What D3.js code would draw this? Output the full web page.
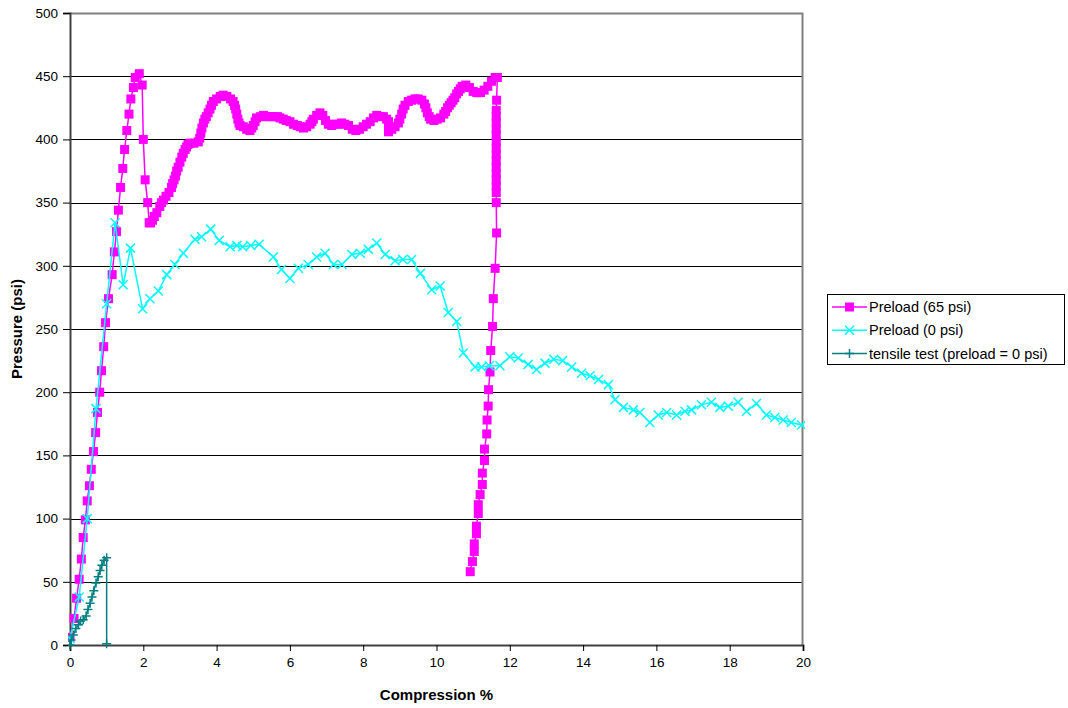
<!DOCTYPE html>
<html>
<head>
<meta charset="utf-8">
<script src="https://cdn.jsdelivr.net/npm/d3@7"></script>
<style>
  body { margin: 0; background: #fff; }
  text { font-family: "Liberation Sans", Arial, sans-serif; }
</style>
</head>
<body>
<div id="chart"></div>
<script>
// Data  ([compression %, pressure psi])

// Preload (65 psi) - loading, plateau, then unloading
var preload65 = [
  [0, 6], [0.11, 21], [0.18, 37], [0.25, 52], [0.31, 68], [0.36, 85], [0.42, 99], [0.47, 114], [0.53, 126], [0.58, 139],
  [0.64, 153], [0.70, 168], [0.75, 184], [0.81, 200], [0.86, 217], [0.92, 236], [0.97, 255], [1.05, 274], [1.15, 293],
  [1.21, 311], [1.27, 327], [1.32, 344], [1.38, 362], [1.44, 377], [1.49, 392], [1.55, 407], [1.61, 420], [1.66, 432],
  [1.73, 441], [1.78, 449], [1.89, 452], [1.97, 443], [2.0, 400], [2.05, 368], [2.12, 350], [2.16, 334],
  [2.2, 334], [2.25, 336], [2.3, 339], [2.37, 342], [2.45, 347], [2.5, 350], [2.55, 352], [2.62, 355], [2.7, 358],
  [2.77, 362], [2.8, 365], [2.84, 368], [2.88, 371], [2.91, 375], [2.95, 378], [3.0, 382], [3.05, 386], [3.09, 389],
  [3.14, 392], [3.18, 394], [3.22, 396], [3.27, 397], [3.38, 397], [3.5, 398], [3.54, 401], [3.57, 405], [3.6, 409],
  [3.64, 413], [3.68, 416], [3.72, 418], [3.77, 421], [3.82, 424], [3.86, 427], [3.91, 430], [4.0, 432], [4.1, 434],
  [4.18, 435], [4.28, 434], [4.38, 432], [4.45, 430], [4.49, 427], [4.52, 424], [4.55, 420], [4.58, 416], [4.61, 413],
  [4.64, 411], [4.73, 410], [4.82, 408], [4.91, 407], [4.96, 409], [5.0, 411], [5.05, 414], [5.09, 417], [5.2, 418],
  [5.28, 419], [5.37, 418], [5.47, 418], [5.57, 418], [5.66, 418], [5.73, 417], [5.82, 416], [5.9, 415], [6.0, 414],
  [6.1, 412], [6.2, 411], [6.28, 410], [6.37, 409], [6.46, 410], [6.55, 412], [6.6, 414], [6.64, 416], [6.73, 419],
  [6.82, 421], [6.9, 419], [6.97, 415], [7.05, 412], [7.14, 411], [7.23, 412], [7.32, 412], [7.41, 413], [7.5, 412],
  [7.6, 411], [7.7, 408], [7.8, 407], [7.9, 408], [8.0, 410], [8.09, 412], [8.19, 414], [8.28, 417], [8.37, 419],
  [8.46, 418], [8.55, 418], [8.64, 416], [8.69, 414], [8.69, 410], [8.69, 406], [8.78, 408], [8.87, 410], [8.96, 413],
  [9.0, 416], [9.05, 420], [9.09, 424], [9.14, 427], [9.23, 430], [9.32, 431], [9.41, 432], [9.5, 432], [9.6, 431],
  [9.67, 428], [9.71, 425], [9.75, 421], [9.8, 418], [9.84, 416], [9.93, 415], [10.02, 416], [10.11, 417], [10.2, 420],
  [10.25, 422], [10.3, 425], [10.35, 427], [10.4, 429], [10.45, 431], [10.5, 433], [10.55, 436], [10.6, 438],
  [10.65, 440], [10.7, 442], [10.8, 443], [10.9, 441], [11.0, 438], [11.1, 437], [11.2, 437], [11.3, 439], [11.4, 442],
  [11.5, 446], [11.6, 449], [11.66, 449],
  [11.64, 431], [11.63, 423], [11.63, 418], [11.63, 413], [11.63, 408], [11.63, 403], [11.63, 398], [11.63, 393],
  [11.63, 388], [11.63, 383], [11.63, 378], [11.63, 373], [11.63, 368], [11.63, 363], [11.63, 358], [11.63, 350],
  [11.64, 326], [11.6, 298], [11.55, 274], [11.53, 252], [11.48, 233], [11.46, 216], [11.42, 202], [11.41, 189],
  [11.38, 178], [11.37, 167], [11.31, 155], [11.31, 146], [11.25, 136], [11.25, 127], [11.19, 119], [11.14, 111],
  [11.14, 104], [11.09, 94], [11.09, 88], [11.03, 80], [11.03, 74], [10.98, 66], [10.92, 58]
];

// Preload (0 psi)
var preload0 = [
  [0, 5], [0.25, 38], [0.47, 100], [0.71, 187], [1.0, 270], [1.23, 334], [1.45, 285], [1.65, 314], [1.98, 266],
  [2.18, 274], [2.41, 280], [2.64, 293], [2.86, 301], [3.09, 310], [3.41, 321], [3.59, 323], [3.84, 329], [4.07, 320],
  [4.37, 315], [4.55, 316], [4.71, 315], [4.93, 316], [5.16, 317], [5.55, 307], [5.77, 297], [6.0, 290], [6.23, 298],
  [6.5, 301], [6.73, 307], [6.96, 310], [7.19, 301], [7.42, 301], [7.69, 309], [7.92, 310], [8.14, 313], [8.37, 318],
  [8.6, 309], [8.87, 304], [9.08, 305], [9.32, 305], [9.56, 294], [9.87, 281], [10.1, 284], [10.32, 263], [10.55, 256],
  [10.73, 231], [11.05, 220], [11.23, 220], [11.44, 221], [11.73, 221], [12.0, 228], [12.23, 227], [12.5, 222],
  [12.73, 218], [12.96, 223], [13.2, 226], [13.44, 225], [13.69, 220], [13.96, 215], [14.19, 213], [14.42, 210],
  [14.69, 206], [14.87, 194], [15.1, 188], [15.37, 186], [15.55, 184], [15.82, 176], [16.05, 182], [16.28, 184],
  [16.55, 182], [16.78, 185], [16.96, 186], [17.23, 190], [17.5, 192], [17.73, 188], [17.96, 189], [18.23, 192],
  [18.46, 185], [18.73, 191], [19.0, 182], [19.23, 180], [19.46, 178], [19.68, 176], [19.96, 174]
];

// tensile test (preload = 0 psi)
var tensile = [
  [0, 0], [0.03, 4], [0.09, 8], [0.16, 13], [0.23, 16], [0.29, 19], [0.36, 20], [0.44, 23], [0.49, 28], [0.55, 33],
  [0.6, 38], [0.65, 43], [0.71, 49], [0.77, 54], [0.82, 59], [0.87, 63], [0.93, 67], [1.0, 69], [1.0, 1]
];

var xTicks = [0, 2, 4, 6, 8, 10, 12, 14, 16, 18, 20];
var yTicks = [0, 50, 100, 150, 200, 250, 300, 350, 400, 450, 500];

var seriesNames = ["Preload (65 psi)", "Preload (0 psi)", "tensile test (preload = 0 psi)"];
var seriesColors = ["#FF00FF", "#00FFFF", "#008080"];
var seriesMarkers = ["square", "cross", "plus"];

// Layout

var width = 1068;
var height = 708;
var margin = {top: 13, right: 265, bottom: 63, left: 70};
var w = width - margin.left - margin.right;
var h = height - margin.top - margin.bottom;

var svg = d3.select("#chart").append("svg")
    .attr("width", width)
    .attr("height", height);

var x = d3.scaleLinear().domain([0, 20]).range([0, w]);
var y = d3.scaleLinear().domain([0, 500]).range([h, 0]);

var g = svg.append("g")
    .attr("transform", "translate(" + margin.left + "," + margin.top + ")");

// Gridlines
g.append("g")
    .selectAll("line")
    .data(yTicks.filter(function(d) { return d > 0 && d < 500; }))
    .enter().append("line")
    .attr("x1", 0)
    .attr("x2", w)
    .attr("y1", function(d) { return Math.round(y(d)) + 0.5; })
    .attr("y2", function(d) { return Math.round(y(d)) + 0.5; })
    .attr("stroke", "#000")
    .attr("stroke-width", 1);

// Plot area border (top, right)
g.append("path")
    .attr("d", "M0," + 0.5 + "H" + (w - 0.5) + "V" + h)
    .attr("fill", "none")
    .attr("stroke", "#808080")
    .attr("stroke-width", 2);

// Axes
var xAxis = g.append("g")
    .attr("transform", "translate(0," + h + ")")
    .call(d3.axisBottom(x).tickValues(xTicks).tickSize(6).tickPadding(6));

var yAxis = g.append("g")
    .call(d3.axisLeft(y).tickValues(yTicks).tickSize(7).tickPadding(5));

[xAxis, yAxis].forEach(function(a) {
  a.select(".domain").attr("stroke", "#404040").attr("stroke-width", 2);
  a.selectAll(".tick line").attr("stroke", "#000");
  a.selectAll("text")
      .attr("fill", "#000")
      .style("font-size", "13.5px")
      .style("font-family", "'Liberation Sans', Arial, sans-serif");
});

// Axis titles
svg.append("text")
    .attr("x", margin.left + w / 2)
    .attr("y", 700)
    .attr("text-anchor", "middle")
    .style("font-size", "15px")
    .style("font-weight", "bold")
    .text("Compression %");

svg.append("text")
    .attr("transform", "translate(22," + (margin.top + h / 2) + ") rotate(-90)")
    .attr("text-anchor", "middle")
    .style("font-size", "15px")
    .style("font-weight", "bold")
    .text("Pressure (psi)");

// Series

svg.append("clipPath")
    .attr("id", "plotClip")
    .append("rect")
    .attr("x", -2)
    .attr("y", -6)
    .attr("width", w + 4)
    .attr("height", h + 12);

var plot = g.append("g").attr("clip-path", "url(#plotClip)");

var line = d3.line()
    .x(function(d) { return x(d[0]); })
    .y(function(d) { return y(d[1]); });

function drawMarker(sel, type, color) {
  if (type === "square") {
    sel.append("rect")
        .attr("x", -4.5).attr("y", -4.5)
        .attr("width", 9).attr("height", 9)
        .attr("fill", color);
  } else if (type === "cross") {
    sel.append("path")
        .attr("d", "M-4.5,-4.5L4.5,4.5M-4.5,4.5L4.5,-4.5")
        .attr("stroke", color)
        .attr("stroke-width", 1.5);
  } else {
    sel.append("path")
        .attr("d", "M-4.5,0H4.5M0,-4.5V4.5")
        .attr("stroke", color)
        .attr("stroke-width", 1.5);
  }
}

var seriesData = [preload65, preload0, tensile];

seriesData.forEach(function(data, i) {
  plot.append("path")
      .datum(data)
      .attr("d", line)
      .attr("fill", "none")
      .attr("stroke", seriesColors[i])
      .attr("stroke-width", 1.5);

  var m = plot.append("g")
      .selectAll("g")
      .data(data)
      .enter().append("g")
      .attr("transform", function(d) { return "translate(" + x(d[0]) + "," + y(d[1]) + ")"; });
  drawMarker(m, seriesMarkers[i], seriesColors[i]);
});

// Legend

var legend = svg.append("g")
    .attr("transform", "translate(827,294)");

legend.append("rect")
    .attr("x", 0.5)
    .attr("y", 0.5)
    .attr("width", 237)
    .attr("height", 70)
    .attr("fill", "#fff")
    .attr("stroke", "#000");

var item = legend.selectAll(".item")
    .data(seriesNames)
    .enter().append("g")
    .attr("class", "item")
    .attr("transform", function(d, i) { return "translate(0," + (13 + i * 23.3) + ")"; });

item.append("line")
    .attr("x1", 5)
    .attr("x2", 40)
    .attr("stroke", function(d, i) { return seriesColors[i]; })
    .attr("stroke-width", 1.5);

item.each(function(d, i) {
  var mk = d3.select(this).append("g").attr("transform", "translate(22.5,0)");
  drawMarker(mk, seriesMarkers[i], seriesColors[i]);
});

item.append("text")
    .attr("x", 42)
    .attr("dy", "0.35em")
    .style("font-size", "14.5px")
    .text(function(d) { return d; });
</script>
</body>
</html>
